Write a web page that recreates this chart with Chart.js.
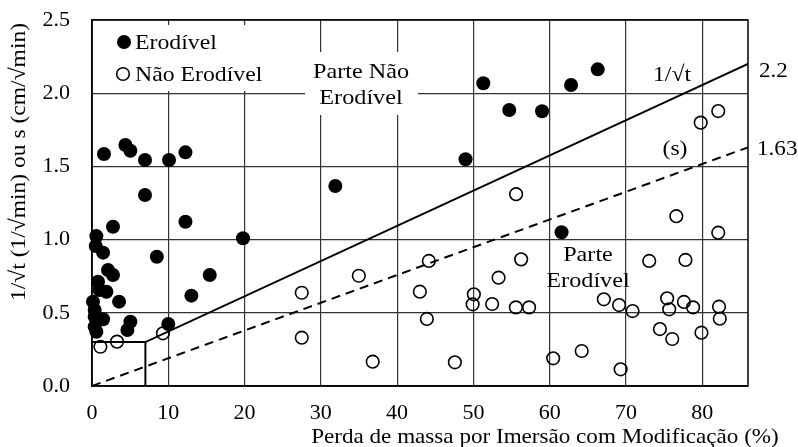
<!DOCTYPE html>
<html>
<head>
<meta charset="utf-8">
<script src="https://cdn.jsdelivr.net/npm/chart.js@4/dist/chart.umd.min.js"></script>
<style>
  html, body { margin: 0; padding: 0; background: #fff; }
  #wrap { width: 798px; height: 447px; }
</style>
</head>
<body>
<div id="wrap"><canvas id="chart" width="798" height="447"></canvas></div>
<script>
// Erodível (filled circles)
const erodX = [1.57, 4.38, 5.03, 6.95, 10.1, 12.25, 6.95, 2.75, 0.57, 0.49, 1.45, 12.25, 19.8, 8.5, 15.44, 13.03,
  2.1, 2.75, 0.79, 1.89, 1.0, 3.55, 0.13, 0.35, 0.35, 1.45, 0.35, 0.57, 5.03, 4.64, 10.0,
  51.3, 54.7, 59.0, 48.97, 31.9, 62.8, 66.3, 61.56];
const erodY = [1.585, 1.646, 1.607, 1.544, 1.544, 1.596, 1.305, 1.088, 1.024, 0.956, 0.911, 1.122, 1.009, 0.883, 0.758, 0.617,
  0.792, 0.758, 0.712, 0.644, 0.656, 0.576, 0.576, 0.519, 0.473, 0.456, 0.405, 0.371, 0.439, 0.383, 0.423,
  2.068, 1.885, 1.877, 1.549, 1.366, 2.056, 2.163, 1.05];

// Não Erodível (open circles)
const naoX = [1.1, 3.28, 9.3, 27.5, 27.5, 34.98, 36.8, 44.16, 42.98, 43.9, 47.57, 50.06, 49.9, 52.46, 53.3, 56.26, 55.57, 57.3, 55.6,
  79.8, 82.1, 76.6, 82.1, 73.05, 77.8, 67.1, 69.1, 70.87, 75.4, 75.67, 77.6, 78.8, 82.2, 82.3, 74.45, 76.07, 79.9, 60.46, 64.2, 69.3];
const naoY = [0.268, 0.303, 0.36, 0.637, 0.33, 0.753, 0.166, 0.854, 0.644, 0.458, 0.162, 0.626, 0.558, 0.56, 0.74, 0.865, 0.537, 0.537, 1.31,
  1.799, 1.878, 1.16, 1.047, 0.854, 0.861, 0.592, 0.553, 0.512, 0.599, 0.524, 0.574, 0.537, 0.542, 0.46, 0.389, 0.321, 0.364, 0.189, 0.239, 0.114];

// limit lines
const lineTX = [0, 7, 86];
const lineTY = [0.3, 0.3, 2.2];
const boxX = [7, 7];
const boxY = [0, 0.3];
const lineSX = [0, 86];
const lineSY = [0, 1.63];

const xTicks = [0, 10, 20, 30, 40, 50, 60, 70, 80];
const yTicks = [0.0, 0.5, 1.0, 1.5, 2.0, 2.5];

const FONT = '"Liberation Serif", "Times New Roman", Times, serif';

const pts = (xs, ys) => xs.map((x, i) => ({ x, y: ys[i] }));

// text with a slight horizontal stretch, like the original figure
function label(ctx, text, x, y, align, size, stretch) {
  ctx.save();
  ctx.translate(x, y);
  ctx.scale(stretch, 1);
  ctx.font = size + 'px ' + FONT;
  ctx.textAlign = align;
  ctx.textBaseline = 'middle';
  ctx.fillText(text, 0, 0);
  ctx.restore();
}

// white boxes, legend, labels and titles drawn on top of the grid
const annotations = {
  id: 'annotations',
  beforeDatasetsDraw(chart) {
    const ctx = chart.ctx;
    ctx.save();
    ctx.fillStyle = '#fff';
    ctx.fillRect(98, 25, 172, 66);   // legend box
    ctx.fillRect(305, 52, 113, 63);  // "Parte Não Erodível"
    ctx.restore();
  },
  afterDatasetsDraw(chart) {
    const ctx = chart.ctx;
    const a = chart.chartArea;
    ctx.save();
    // frame
    ctx.strokeStyle = '#000';
    ctx.lineWidth = 1.5;
    ctx.strokeRect(a.left, a.top, a.right - a.left, a.bottom - a.top);

    ctx.fillStyle = '#000';

    // legend
    ctx.beginPath();
    ctx.arc(124, 42, 7, 0, Math.PI * 2);
    ctx.fill();
    ctx.beginPath();
    ctx.lineWidth = 1.6;
    ctx.arc(123, 74, 6.3, 0, Math.PI * 2);
    ctx.stroke();
    label(ctx, 'Erodível', 135, 43, 'left', 22, 1.08);
    label(ctx, 'Não Erodível', 135, 75, 'left', 22, 1.08);

    // region labels
    label(ctx, 'Parte Não', 361, 72, 'center', 22, 1.1);
    label(ctx, 'Erodível', 361, 98, 'center', 22, 1.1);
    label(ctx, 'Parte', 588, 255, 'center', 22, 1.1);
    label(ctx, 'Erodível', 588, 281, 'center', 22, 1.1);
    label(ctx, '1/√t', 672, 75, 'center', 22, 1.08);
    label(ctx, '(s)', 675, 149, 'center', 22, 1.08);
    label(ctx, '2.2', 759, 71, 'left', 22, 1.05);
    label(ctx, '1.63', 757, 149, 'left', 22, 1.05);

    // axis titles
    label(ctx, 'Perda de massa por Imersão com Modificação (%)', 545, 437, 'center', 22, 1.05);

    ctx.translate(19, 162);
    ctx.rotate(-Math.PI / 2);
    label(ctx, '1/√t (1/√min) ou s (cm/√min)', 0, 0, 'center', 22, 1.07);
    ctx.restore();
  }
};

function draw() {
  new Chart(document.getElementById('chart'), {
    type: 'scatter',
    data: {
      datasets: [
        {
          label: 'Erodível',
          data: pts(erodX, erodY),
          pointRadius: 7,
          pointBackgroundColor: '#000',
          pointBorderColor: '#000',
          pointBorderWidth: 0,
          showLine: false,
          clip: false
        },
        {
          label: 'Não Erodível',
          data: pts(naoX, naoY),
          pointRadius: 6.3,
          pointBackgroundColor: 'rgba(255,255,255,0)',
          pointBorderColor: '#000',
          pointBorderWidth: 1.6,
          showLine: false,
          clip: false
        },
        {
          label: '1/√t',
          type: 'line',
          data: pts(lineTX, lineTY),
          borderColor: '#000',
          borderWidth: 2,
          pointRadius: 0,
          fill: false
        },
        {
          label: 'box',
          type: 'line',
          data: pts(boxX, boxY),
          borderColor: '#000',
          borderWidth: 2,
          pointRadius: 0,
          fill: false
        },
        {
          label: '(s)',
          type: 'line',
          data: pts(lineSX, lineSY),
          borderColor: '#000',
          borderWidth: 2,
          borderDash: [9, 6],
          pointRadius: 0,
          fill: false
        }
      ]
    },
    options: {
      responsive: false,
      animation: false,
      layout: { padding: { top: 20, right: 50, left: 0, bottom: 0 } },
      plugins: {
        legend: { display: false },
        tooltip: { enabled: false }
      },
      scales: {
        x: {
          type: 'linear',
          min: 0,
          max: 86,
          afterBuildTicks: scale => { scale.ticks = xTicks.map(v => ({ value: v })); },
          afterFit: scale => {
            scale.height = 61;
            scale.paddingLeft = 0;
            scale.paddingRight = 0;
          },
          grid: { color: '#333', lineWidth: 1.2, drawTicks: false },
          border: { color: '#000', width: 1.5 },
          ticks: {
            color: '#000',
            padding: 14,
            maxRotation: 0,
            font: { family: FONT, size: 22 },
            callback: v => String(v)
          }
        },
        y: {
          type: 'linear',
          min: 0,
          max: 2.5,
          afterBuildTicks: scale => { scale.ticks = yTicks.map(v => ({ value: v })); },
          afterFit: scale => {
            scale.width = 92;
            scale.paddingTop = 0;
            scale.paddingBottom = 0;
          },
          grid: { color: '#333', lineWidth: 1.2, drawTicks: false },
          border: { color: '#000', width: 1.5 },
          ticks: {
            color: '#000',
            padding: 22,
            font: { family: FONT, size: 22 },
            callback: v => v.toFixed(1)
          }
        }
      }
    },
    plugins: [annotations]
  });
}

if (document.fonts && document.fonts.load) {
  document.fonts.load('22px "Liberation Serif"').then(draw, draw);
} else {
  draw();
}
</script>
</body>
</html>
